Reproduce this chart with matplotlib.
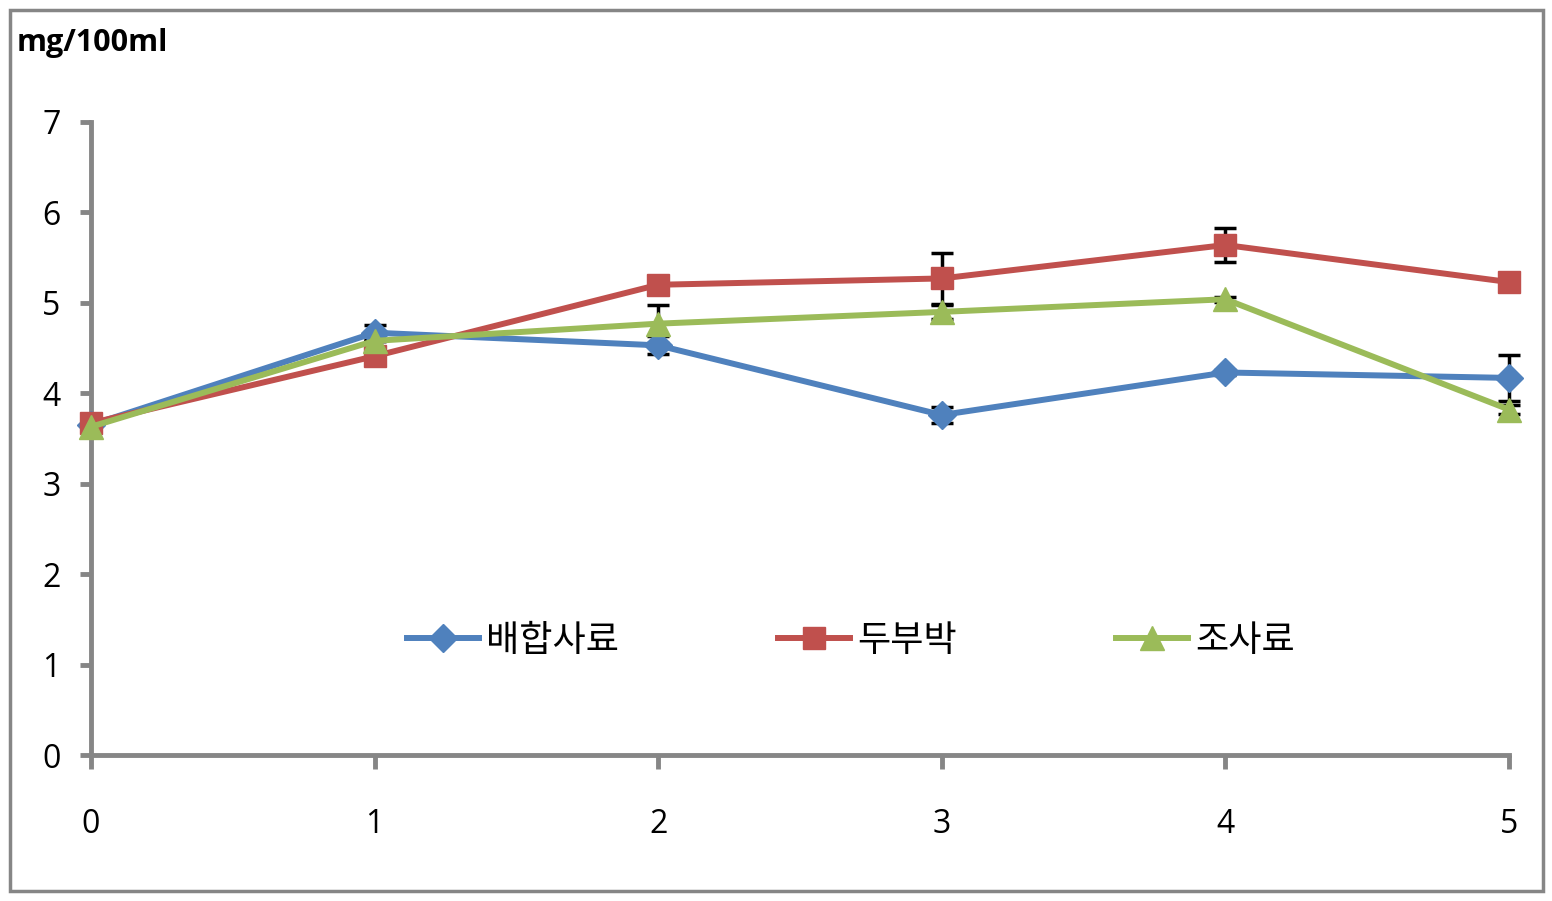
import numpy as np
import matplotlib.pyplot as plt
from matplotlib.patches import Rectangle

plt.rcParams['font.family'] = ['Open Sans', 'Noto Sans CJK KR', 'DejaVu Sans']

# time points and series values
weeks = [0, 1, 2, 3, 4, 5]
labels = ['배합사료', '두부박', '조사료']
mixed = [3.65, 4.67, 4.53, 3.76, 4.23, 4.17]
tofu = [3.67, 4.41, 5.20, 5.27, 5.64, 5.23]
rough = [3.63, 4.58, 4.77, 4.90, 5.04, 3.82]
mixed_err = [0, 0.08, 0.10, 0.09, 0.03, 0.25]
tofu_err = [0, 0, 0.02, 0.28, 0.19, 0]
rough_err = [0, 0, 0.21, 0.08, 0.03, 0.05]

colors = ['#4F81BD', '#C0504D', '#9BBB59']
markers = ['D', 's', '^']
sizes = [14, 16, 17]
grey = '#868686'

fig = plt.figure(figsize=(15.52, 9.01), dpi=100)
ax = fig.add_axes([91 / 1552, 1 - 755 / 901, (1509 - 91) / 1552, (755 - 122) / 901])

series = [mixed, tofu, rough]
errs = [mixed_err, tofu_err, rough_err]
for vals, err, c, m, ms, lab in zip(series, errs, colors, markers, sizes, labels):
    ax.errorbar(weeks, vals, yerr=err, fmt='none', ecolor='black',
                elinewidth=2.5, capsize=8, capthick=2.5, zorder=2, clip_on=False)
    ax.plot(weeks, vals, color=c, marker=m, markersize=ms, linewidth=4.3,
            label=lab, zorder=3, clip_on=False)

ax.set_xlim(0, 5)
ax.set_ylim(0, 7)
ax.set_xticks(weeks)
ax.set_yticks(range(8))
for s in ['top', 'right']:
    ax.spines[s].set_visible(False)
for s in ['left', 'bottom']:
    ax.spines[s].set_color(grey)
    ax.spines[s].set_linewidth(3.5)
ax.tick_params(axis='both', colors=grey, width=3.5, length=8, labelcolor='black', labelsize=23)
ax.tick_params(axis='y', pad=14)
ax.tick_params(axis='x', length=10, pad=28)

leg = ax.legend(loc='center', bbox_to_anchor=(0.536, 0.18), ncol=3, frameon=False,
                handlelength=2.0, handletextpad=0.2, columnspacing=4.4,
                prop={'family': ['Noto Sans CJK KR'], 'size': 26})

fig.text(17 / 1552, 1 - 43 / 901, 'mg/100ml', fontsize=22, fontweight='bold', va='center')
fig.patches.append(Rectangle((10 / 1552, 10 / 901), 1533 / 1552, 881 / 901,
                             transform=fig.transFigure, fill=False,
                             edgecolor=grey, linewidth=2.5))

fig.savefig('out.png', dpi=100)
